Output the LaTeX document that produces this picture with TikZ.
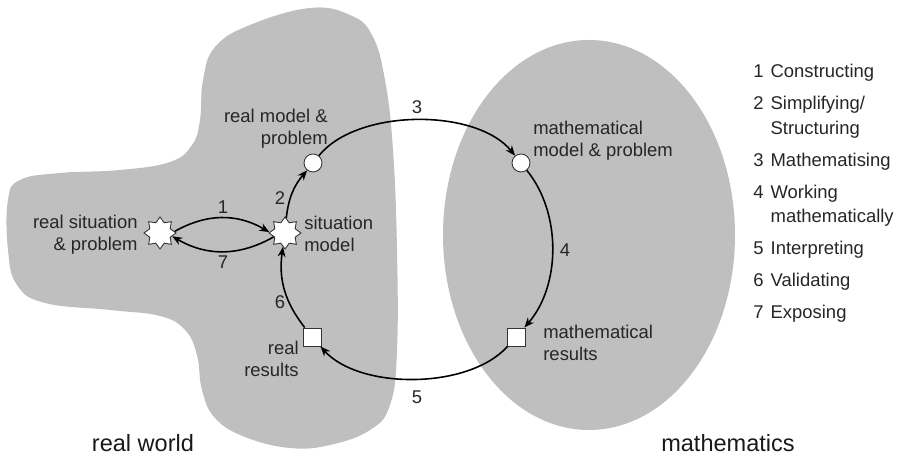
\documentclass[tikz,border=0pt]{standalone}
\usepackage{fontspec}
\setmainfont{Liberation Sans}
\usetikzlibrary{shapes.geometric}
\usetikzlibrary{arrows.meta}

\begin{document}
\begin{tikzpicture}[
        flow/.style={-{Stealth[length=2mm,width=1.6mm]}, line width=0.9pt},
        lbl/.style={text=black!85, font=\fontsize{10.5}{12.5}\selectfont, inner sep=0pt},
        world/.style={text=black!90, font=\fontsize{13.4}{16}\selectfont, inner sep=0pt},
        situnode/.style={star, star points=8, star point ratio=1.45, minimum size=0.64cm, inner sep=0pt, draw=black!80, fill=white, line width=0.5pt},
        modelnode/.style={circle, minimum size=0.36cm, inner sep=0pt, draw=black!80, fill=white, line width=0.5pt},
        resultnode/.style={rectangle, minimum size=0.36cm, inner sep=0pt, draw=black!80, fill=white, line width=0.5pt}]
        \useasboundingbox (0,0) rectangle (18,9.16);
        % the two worlds
        \fill[black!25] plot[smooth cycle, tension=0.7] coordinates {(6.20,9.00) (7.00,8.86) (7.44,8.46) (7.70,7.56) (7.86,6.16) (7.94,4.16) (7.94,2.16) (7.80,1.06) (7.40,0.56) (6.60,0.26) (5.80,0.20) (4.90,0.42) (4.30,0.80) (4.04,1.36) (3.94,2.06) (3.70,2.56) (3.20,2.84) (2.20,2.96) (0.90,3.10) (0.34,3.46) (0.16,4.16) (0.16,5.16) (0.40,5.56) (1.20,5.70) (2.40,5.76) (3.40,5.92) (3.84,6.26) (4.00,6.76) (4.06,7.56) (4.30,8.22) (5.00,8.66)};
        \fill[black!25] (11.78,4.46) ellipse [x radius=2.92, y radius=3.90];
        \node[world] (rworld) at (2.86, 0.30) {real world};
        \node[world] (maths) at (14.56, 0.30) {mathematics};
        % stations of the cycle
        \node[situnode] (rsit) at (3.20, 4.50) {};
        \node[situnode] (smodel) at (5.70, 4.50) {};
        \node[modelnode] (rmodel) at (6.26, 5.90) {};
        \node[modelnode] (mmodel) at (10.42, 5.90) {};
        \node[resultnode] (mres) at (10.32, 2.42) {};
        \node[resultnode] (rres) at (6.24, 2.42) {};
        \node[lbl, align=right, anchor=east] (rsittxt) at (2.76, 4.46) {real situation\\\& problem};
        \node[lbl, align=left, anchor=west] (smodeltxt) at (6.08, 4.48) {situation\\model};
        \node[lbl, align=right, anchor=east] (rmodeltxt) at (6.56, 6.58) {real model \&\\problem};
        \node[lbl, align=left, anchor=west] (mmodeltxt) at (10.66, 6.34) {mathematical\\model \& problem};
        \node[lbl, align=left, anchor=west] (mrestxt) at (10.86, 2.30) {mathematical\\results};
        \node[lbl, align=right, anchor=east] (rrestxt) at (5.98, 1.98) {real\\results};
        % steps
        \draw[flow] (rsit.6) to[bend left=30] (smodel.177);
        \draw[flow] (smodel.199) to[bend left=30] (rsit.-15);
        \draw[flow] (smodel) to[bend left=17] (rmodel);
        \draw[flow] (rmodel) to[bend left=51, looseness=0.8] (mmodel);
        \draw[flow] (mmodel) to[bend left=40, looseness=0.9] (mres);
        \draw[flow] (mres) to[bend left=48, looseness=0.8] (rres);
        \draw[flow] (rres) to[bend left=23] (smodel);
        \node[lbl] (n1) at (4.46, 5.02) {1};
        \node[lbl] (n7) at (4.46, 3.92) {7};
        \node[lbl] (n2) at (5.60, 5.20) {2};
        \node[lbl] (n3) at (8.34, 7.02) {3};
        \node[lbl] (n4) at (11.30, 4.16) {4};
        \node[lbl] (n5) at (8.34, 1.22) {5};
        \node[lbl] (n6) at (5.60, 3.12) {6};
        % key
        \node[lbl, font=\fontsize{10.5}{13.7}\selectfont, anchor=base west] (key) at (15.06, 7.60) {\begin{tabular}[t]{@{}l@{\hspace{4pt}}l@{}}
            1 & Constructing\\[4.5pt]
            2 & Simplifying/\\
              & Structuring\\[4.5pt]
            3 & Mathematising\\[4.5pt]
            4 & Working\\
              & mathematically\\[4.5pt]
            5 & Interpreting\\[4.5pt]
            6 & Validating\\[4.5pt]
            7 & Exposing
        \end{tabular}};
    \end{tikzpicture}
\end{document}
